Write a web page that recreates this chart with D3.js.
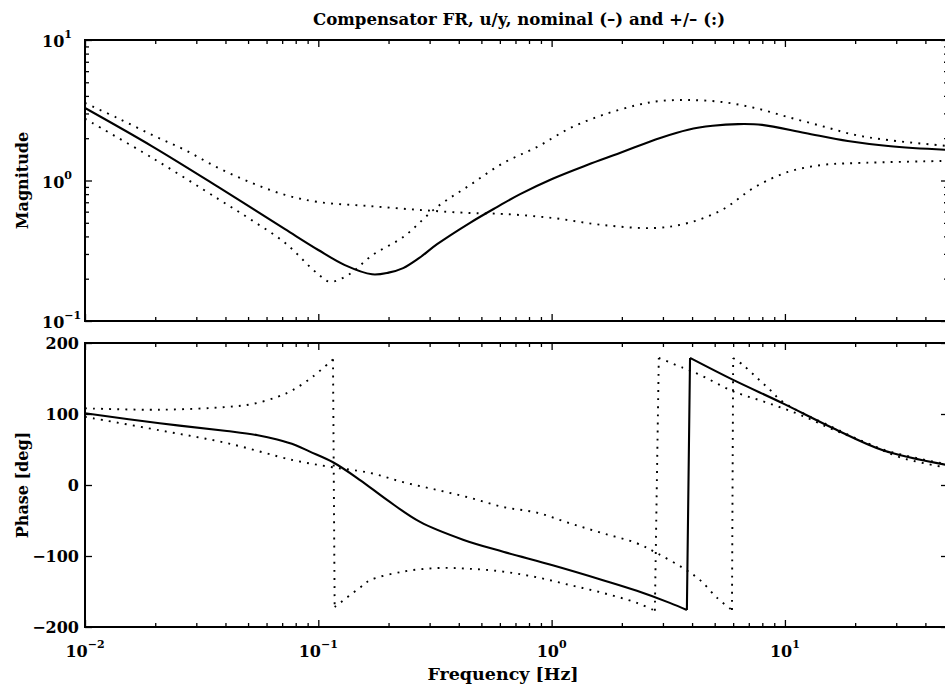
<!DOCTYPE html>
<html>
<head>
<meta charset="utf-8">
<script src="https://cdn.jsdelivr.net/npm/d3@7"></script>
<style>
  html, body { margin: 0; padding: 0; background: #fff; }
  svg { display: block; }
  text { font-family: "DejaVu Serif", "Liberation Serif", serif; font-weight: bold; fill: #000; }
</style>
</head>
<body>
<svg id="chart" width="945" height="687"></svg>
<script>
// Compensator frequency response, u/y: nominal (solid) and +/- perturbed (dotted)
// Magnitude series: [frequency Hz, magnitude]
const magNominal = [
  [0.01, 3.28], [0.0194, 1.75], [0.0372, 0.90], [0.072, 0.45], [0.1, 0.32],
  [0.13, 0.25], [0.17, 0.215], [0.2, 0.221], [0.231, 0.238], [0.27, 0.28], [0.323, 0.352],
  [0.447, 0.50], [0.583, 0.647], [0.733, 0.80], [1.01, 1.03], [1.42, 1.29],
  [1.96, 1.57], [2.92, 2.01], [3.85, 2.30], [4.9, 2.45], [6.3, 2.52], [7.98, 2.49],
  [12.2, 2.18], [18.6, 1.91], [27.7, 1.76], [50, 1.65]
];
const magPlus = [
  [0.01, 3.56], [0.0138, 2.78], [0.0194, 2.11], [0.0268, 1.65], [0.0372, 1.23],
  [0.052, 0.96], [0.072, 0.79], [0.1, 0.703], [0.163, 0.659], [0.273, 0.617],
  [0.447, 0.587], [0.62, 0.578], [1.01, 0.541], [1.66, 0.482], [2.77, 0.459],
  [3.85, 0.499], [5.37, 0.617], [7.45, 0.899], [10.3, 1.15], [14.4, 1.29],
  [20.0, 1.33], [50, 1.38]
];
const magMinus = [
  [0.01, 2.75], [0.0194, 1.45], [0.0372, 0.74], [0.052, 0.52],
  [0.072, 0.36], [0.094, 0.235], [0.104, 0.204], [0.112, 0.190], [0.134, 0.212],
  [0.171, 0.295], [0.231, 0.396], [0.323, 0.648], [0.447, 0.929], [0.62, 1.33],
  [0.865, 1.73], [1.2, 2.36], [1.66, 2.93], [2.32, 3.44], [2.92, 3.68],
  [3.85, 3.74], [5.37, 3.62], [7.45, 3.28], [10.3, 2.83], [14.4, 2.44],
  [20.0, 2.11], [27.7, 1.94], [50, 1.76]
];

// Phase series: [frequency Hz, phase deg]; wraps at +/-180 appear as steep steps
const phaseNominal = [
  [0.01, 101], [0.0209, 87], [0.0406, 76], [0.055, 70], [0.0666, 64], [0.08, 56],
  [0.092, 47], [0.1156, 32], [0.151, 7], [0.197, -21], [0.273, -52], [0.417, -77],
  [0.62, -94], [1.01, -113], [1.66, -134], [2.32, -149], [3.21, -166],
  [3.8, -176], [3.92, 179], [6.0, 148], [9.8, 115], [16.1, 80],
  [26.3, 49], [50, 28]
];
const phasePlus = [
  [0.01, 108], [0.0209, 106], [0.0406, 110], [0.052, 114], [0.0666, 124], [0.078, 134],
  [0.095, 153], [0.1156, 177], [0.1175, -172], [0.15, -145], [0.167, -134],
  [0.231, -122], [0.323, -117], [0.447, -118], [0.62, -122], [0.865, -130],
  [1.2, -141], [1.66, -152], [2.32, -166], [2.77, -177], [2.88, 179],
  [3.66, 165], [4.33, 155], [6.0, 132], [8.37, 116], [11.6, 99],
  [16.1, 78], [22.5, 59], [31.1, 39], [50, 24]
];
const phaseMinus = [
  [0.01, 96], [0.0209, 77], [0.0406, 59], [0.078, 35], [0.115, 25],
  [0.167, 17], [0.231, 4], [0.323, -7], [0.447, -18], [0.62, -31],
  [0.865, -39], [1.2, -54], [1.66, -68], [2.32, -82], [2.83, -96],
  [3.66, -117], [4.33, -134], [5.12, -159], [5.93, -176], [6.0, 179],
  [6.61, 169], [7.59, 151], [8.63, 134], [9.8, 117], [16.1, 81],
  [26.3, 50], [50, 29]
];

// Axis ticks and labels
const freqDecades = [-2, -1, 0, 1];
const magDecades = [-1, 0, 1];
const phaseTicks = [-200, -100, 0, 100, 200];
const titleText = "Compensator FR, u/y, nominal (\u2013) and +/\u2013 (:)";
const xLabelText = "Frequency [Hz]";
const magLabelText = "Magnitude";
const phaseLabelText = "Phase [deg]";

const svg = d3.select("#chart");

const left = 85, right = 948;
const magTop = 40, magBottom = 321;
const phTop = 343, phBottom = 627;

const x = d3.scaleLog().domain([0.01, 50]).range([left, right]);
const yMag = d3.scaleLog().domain([0.1, 10]).range([magBottom, magTop]);
const yPh = d3.scaleLinear().domain([-200, 200]).range([phBottom, phTop]);

// minor / major ticks on the log frequency axis
const freqMajor = freqDecades.map(e => Math.pow(10, e));
const freqMinor = [];
for (const e of [-2, -1, 0, 1]) {
  for (let m = 2; m <= 9; m++) {
    const v = m * Math.pow(10, e);
    if (v <= 50) freqMinor.push(v);
  }
}
const magMajor = magDecades.map(e => Math.pow(10, e));
const magMinor = [];
for (const e of [-1, 0]) for (let m = 2; m <= 9; m++) magMinor.push(m * Math.pow(10, e));

const clipDefs = svg.append("defs");
function addClip(id, y0, y1) {
  clipDefs.append("clipPath").attr("id", id)
    .append("rect").attr("x", left).attr("y", y0).attr("width", right - left).attr("height", y1 - y0);
}
addClip("clipMag", magTop, magBottom);
addClip("clipPh", phTop, phBottom);

function drawTicks(g, axisFn, scale, values, size) {
  g.call(axisFn(scale).tickValues(values).tickSize(size).tickFormat(""))
    .call(s => s.select(".domain").remove())
    .call(s => s.selectAll("line").attr("stroke", "#000").attr("stroke-width", 1.3));
}

function panelFrame(y0, y1, yScale, yMajor, yMinor) {
  // frequency ticks, top and bottom, pointing inward
  drawTicks(svg.append("g").attr("transform", `translate(0,${y1})`), d3.axisBottom, x, freqMajor, -7);
  drawTicks(svg.append("g").attr("transform", `translate(0,${y1})`), d3.axisBottom, x, freqMinor, -4);
  drawTicks(svg.append("g").attr("transform", `translate(0,${y0})`), d3.axisTop, x, freqMajor, -7);
  drawTicks(svg.append("g").attr("transform", `translate(0,${y0})`), d3.axisTop, x, freqMinor, -4);
  // value ticks, left and right
  drawTicks(svg.append("g").attr("transform", `translate(${left},0)`), d3.axisLeft, yScale, yMajor, -7);
  drawTicks(svg.append("g").attr("transform", `translate(${right},0)`), d3.axisRight, yScale, yMajor, -7);
  if (yMinor.length) {
    drawTicks(svg.append("g").attr("transform", `translate(${left},0)`), d3.axisLeft, yScale, yMinor, -4);
    drawTicks(svg.append("g").attr("transform", `translate(${right},0)`), d3.axisRight, yScale, yMinor, -4);
  }
  svg.append("rect").attr("x", left).attr("y", y0).attr("width", right - left).attr("height", y1 - y0)
    .attr("fill", "none").attr("stroke", "#000").attr("stroke-width", 2);
}

panelFrame(magTop, magBottom, yMag, magMajor, magMinor);
panelFrame(phTop, phBottom, yPh, phaseTicks, []);

// Split a series at +/-180 wraps so each branch is smoothed separately,
// with a straight connector across the wrap.
function drawSeries(data, yScale, clip, dotted) {
  const segs = [[data[0]]];
  for (let i = 1; i < data.length; i++) {
    if (Math.abs(data[i][1] - data[i - 1][1]) > 180) segs.push([]);
    segs[segs.length - 1].push(data[i]);
  }
  const smooth = d3.line().x(d => x(d[0])).y(d => yScale(d[1])).curve(d3.curveCatmullRom.alpha(0.5));
  const straight = d3.line().x(d => x(d[0])).y(d => yScale(d[1]));
  let dStr = segs.map(s => smooth(s)).join("");
  for (let i = 1; i < segs.length; i++) {
    dStr += straight([segs[i - 1][segs[i - 1].length - 1], segs[i][0]]);
  }
  const p = svg.append("path").attr("d", dStr).attr("fill", "none")
    .attr("stroke", "#000").attr("clip-path", `url(#${clip})`);
  if (dotted) p.attr("stroke-width", 1.9).attr("stroke-dasharray", "1.9,6.2");
  else p.attr("stroke-width", 2.1).attr("stroke-linejoin", "round");
}

drawSeries(magPlus, yMag, "clipMag", true);
drawSeries(magMinus, yMag, "clipMag", true);
drawSeries(magNominal, yMag, "clipMag", false);
drawSeries(phasePlus, yPh, "clipPh", true);
drawSeries(phaseMinus, yPh, "clipPh", true);
drawSeries(phaseNominal, yPh, "clipPh", false);

const fs = 16;
function expText(e) { return String(e).replace("-", "\u2212"); }

freqDecades.forEach(e => {
  const t = svg.append("text").attr("x", x(Math.pow(10, e))).attr("y", 657)
    .attr("text-anchor", "middle").style("font-size", fs + "px");
  t.append("tspan").text("10");
  t.append("tspan").attr("dy", -9).style("font-size", "11px").text(expText(e));
});
magDecades.forEach(e => {
  const t = svg.append("text").attr("x", 42).attr("y", yMag(Math.pow(10, e)) + 7)
    .attr("text-anchor", "start").style("font-size", fs + "px");
  t.append("tspan").text("10");
  t.append("tspan").attr("dy", -9).style("font-size", "11px").text(expText(e));
});
phaseTicks.forEach(v => {
  svg.append("text").attr("x", 79).attr("y", yPh(v) + 6).attr("text-anchor", "end")
    .style("font-size", fs + "px").text(expText(v));
});

svg.append("text").attr("x", 519).attr("y", 25).attr("text-anchor", "middle")
  .style("font-size", "16.6px").text(titleText);
svg.append("text").attr("x", 503).attr("y", 680).attr("text-anchor", "middle")
  .style("font-size", "17.5px").text(xLabelText);
svg.append("text").attr("transform", `translate(28,${(magTop + magBottom) / 2}) rotate(-90)`)
  .attr("text-anchor", "middle").style("font-size", "16px").text(magLabelText);
svg.append("text").attr("transform", `translate(28,${(phTop + phBottom) / 2}) rotate(-90)`)
  .attr("text-anchor", "middle").style("font-size", "16px").text(phaseLabelText);
</script>
</body>
</html>
